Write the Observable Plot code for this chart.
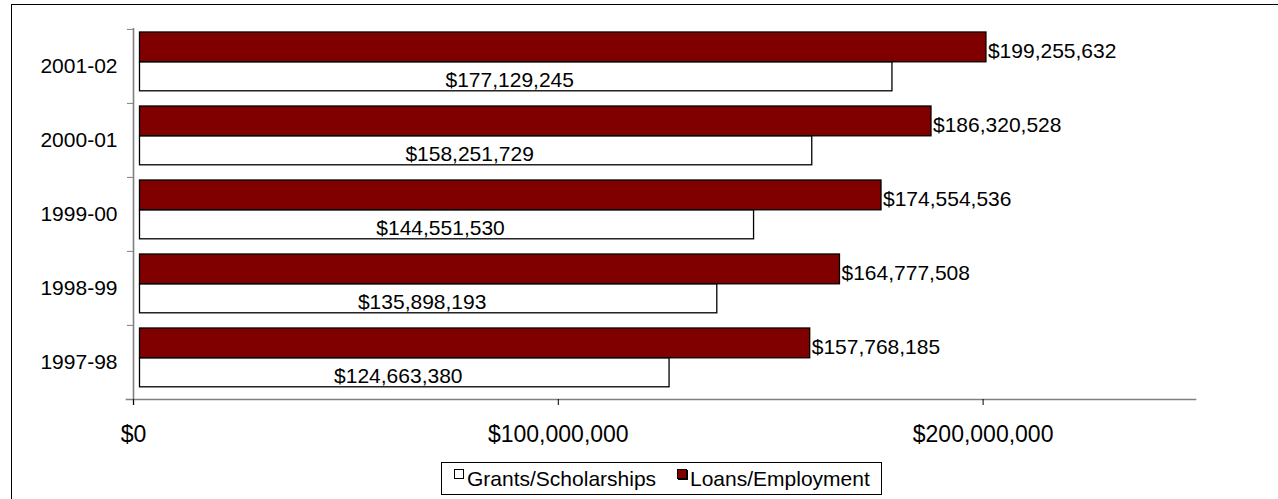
<!DOCTYPE html>
<html>
<head>
<meta charset="utf-8">
<script src="https://cdn.jsdelivr.net/npm/d3@7"></script>
<script src="https://cdn.jsdelivr.net/npm/@observablehq/plot@0.6"></script>
<style>
  html, body { margin: 0; padding: 0; background: #fff; overflow: hidden; width: 1278px; height: 499px; }
  body { position: relative; font-family: "Liberation Sans", Arial, sans-serif; }
  #frame { position: absolute; left: 11px; top: 4px; width: 1400px; height: 600px; border: 1px solid #000; box-sizing: border-box; }
  #chart { position: absolute; left: 0; top: 0; }
  #legend { position: absolute; left: 441px; top: 462px; width: 441px; height: 33px; border: 1px solid #000; box-sizing: border-box; background: #fff; font-size: 21px; color: #000; }
  #legend .sw { position: absolute; width: 10px; height: 10px; box-sizing: border-box; border: 1px solid #000; top: 6px; }
  #legend .lb { position: absolute; top: 0; line-height: 32px; white-space: nowrap; }
</style>
</head>
<body>
<div id="frame"></div>
<div id="chart"></div>
<div id="legend"></div>
<script>
// ---- data ----
const categories = ["2001-02", "2000-01", "1999-00", "1998-99", "1997-98"];
const grants = [177129245, 158251729, 144551530, 135898193, 124663380];
const loans = [199255632, 186320528, 174554536, 164777508, 157768185];
const xTicks = [0, 100000000, 200000000];
const seriesNames = ["Grants/Scholarships", "Loans/Employment"];
const seriesColors = ["#ffffff", "#800000"];

const data = categories.map((c, i) => ({year: c, grants: grants[i], loans: loans[i]}));
const money = d => "$" + d3.format(",")(d);

const band = (450 - 28 - 51) / categories.length;

const chart = Plot.plot({
  width: 1278,
  height: 450,
  marginLeft: 133,
  marginRight: 83,
  marginTop: 28,
  marginBottom: 51,
  style: {fontFamily: "'Liberation Sans', Arial, sans-serif", fontSize: "21px", background: "transparent", overflow: "visible", color: "#000"},
  x: {domain: [0, 250000000], axis: null},
  y: {domain: categories, padding: 0, axis: null},
  marks: [
    Plot.barX(data, {x: "loans", y: "year", fill: seriesColors[1], stroke: "#000", strokeWidth: 1.3, insetTop: 3, insetBottom: band - 33, dx: 6.5}),
    Plot.barX(data, {x: "grants", y: "year", fill: seriesColors[0], stroke: "#000", strokeWidth: 1.3, insetTop: 33, insetBottom: 12.2, dx: 6.5}),
    Plot.ruleX([0], {stroke: "#808080", strokeWidth: 1.6, insetBottom: -6}),
    Plot.frame({anchor: "bottom", stroke: "#808080", strokeWidth: 1.6, insetLeft: -7}),
    Plot.axisY({tickSize: 6, tickFormat: () => "", dy: -band / 2, stroke: "#808080", label: null}),
    Plot.axisY({tickSize: 0, tickPadding: 16, label: null}),
    Plot.axisX({ticks: xTicks, tickSize: 6, tickPadding: 20, tickFormat: money, label: null, fontSize: 23}),
    Plot.text(data, {x: "loans", y: "year", text: d => money(d.loans), textAnchor: "start", dx: 8, dy: -15, fill: "#000"}),
    Plot.text(data, {x: d => d.grants / 2, y: "year", text: d => money(d.grants), dy: 13.5, fill: "#000"})
  ]
});
document.getElementById("chart").appendChild(chart);

// ---- legend ----
const legend = document.getElementById("legend");
const pos = [{sw: 12, lb: 25}, {sw: 235, lb: 248}];
seriesNames.forEach((name, i) => {
  const sw = document.createElement("span");
  sw.className = "sw";
  sw.style.left = pos[i].sw + "px";
  sw.style.background = seriesColors[i];
  if (i === 1) sw.style.boxShadow = "1px 1px 0 #000";
  legend.appendChild(sw);
  const lb = document.createElement("span");
  lb.className = "lb";
  lb.style.left = pos[i].lb + "px";
  lb.textContent = name;
  legend.appendChild(lb);
});
</script>
</body>
</html>
